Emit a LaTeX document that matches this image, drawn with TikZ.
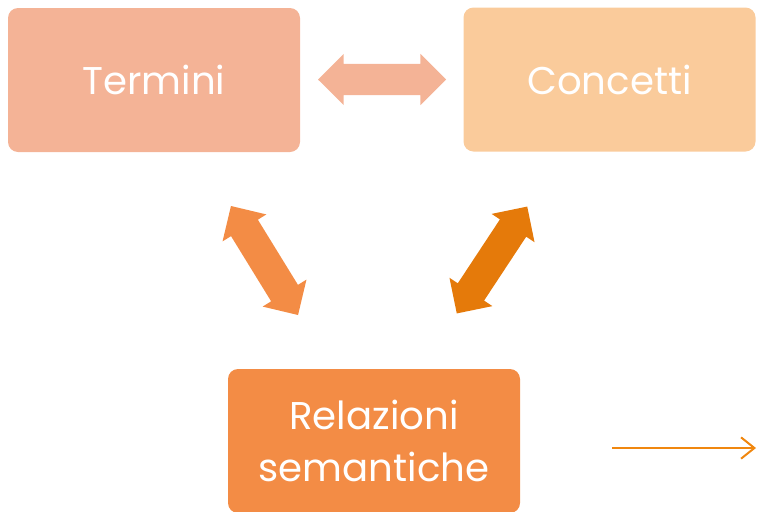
\documentclass[tikz,border=0pt]{standalone}
\usepackage{fontspec}
\setmainfont{Poppins}
\usetikzlibrary{shapes.arrows,arrows.meta}
\definecolor{termcol}{HTML}{F4B396}
\definecolor{conccol}{HTML}{FACB9B}
\definecolor{relcol}{HTML}{F38C45}
\definecolor{darkcol}{HTML}{E57A0A}
\definecolor{linecol}{HTML}{F0870F}
\begin{document}
\begin{tikzpicture}[x=0.75pt, y=-0.75pt,
    box/.style={rectangle, rounded corners=7.5pt, minimum width=219pt, minimum height=108pt, text=white, align=center, font=\fontsize{29}{39}\selectfont},
    bigarrow/.style={double arrow, minimum height=96pt, minimum width=38.25pt, double arrow head extend=7.5pt, inner xsep=0pt, inner ysep=11.6pt}]
    \useasboundingbox (0,0) rectangle (757,511);
    \node[box, fill=termcol] (termini) at (154,80) {Termini};
    \node[box, fill=conccol] (concetti) at (609.5,79.5) {Concetti};
    \node[box, fill=relcol] (relazioni) at (374,441) {Relazioni\\semantiche};
    \node[bigarrow, fill=termcol] (a1) at (382,79.5) {};
    \node[bigarrow, fill=relcol, rotate=-58.4] (a2) at (264.5,260.5) {};
    \node[bigarrow, fill=darkcol, rotate=56.6] (a3) at (492,260) {};
    \coordinate (from) at (612,448);
    \coordinate (to) at (756,448);
    \draw[linecol, line width=1.5pt, -{Straight Barb[length=10pt, width=16pt]}] (from) -- (to);
\end{tikzpicture}
\end{document}
